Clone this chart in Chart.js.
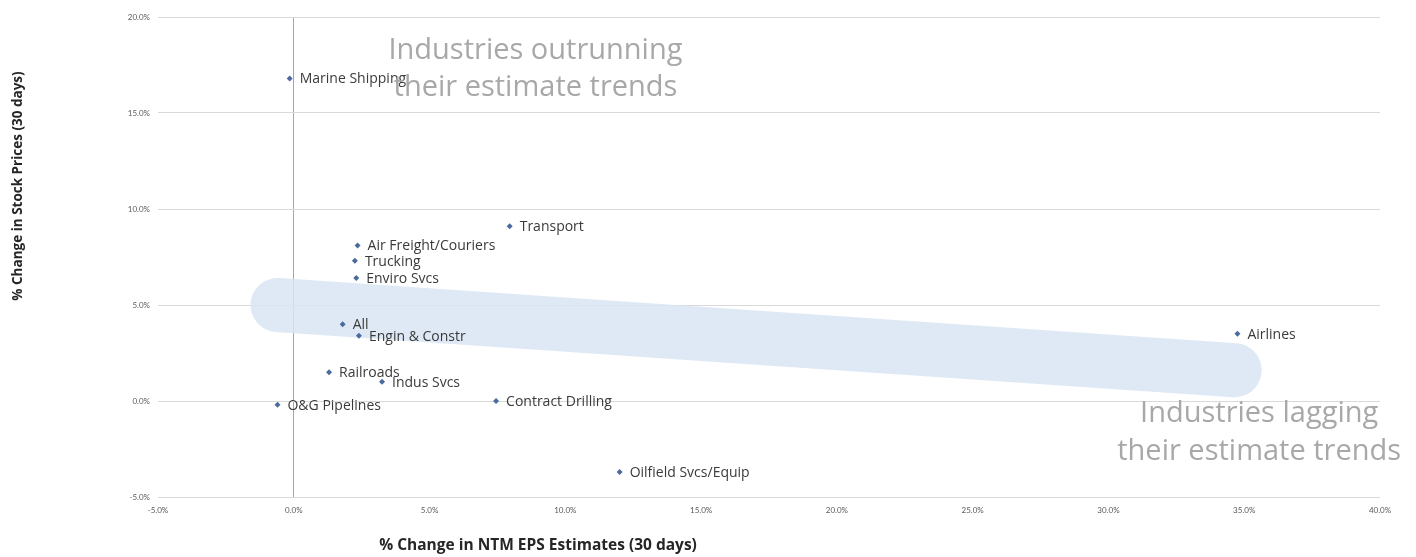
<!DOCTYPE html>
<html lang="en">
<head>
    <meta charset="UTF-8">
    <title>Industry Stock Prices vs EPS Estimates</title>
    <script src="https://cdn.jsdelivr.net/npm/chart.js"></script>
    <style>
        body { margin: 0; background: #fff; }
    </style>
</head>
<body>
    <canvas id="industryChart" width="1416" height="557"></canvas>
    <script>
        var industries = ['Marine Shipping', 'Transport', 'Air Freight/Couriers', 'Trucking', 'Enviro Svcs', 'All',
            'Engin & Constr', 'Railroads', 'Indus Svcs', 'O&G Pipelines', 'Contract Drilling', 'Oilfield Svcs/Equip', 'Airlines'];
        var epsChange = [-0.15, 7.95, 2.35, 2.25, 2.3, 1.8, 2.4, 1.3, 3.25, -0.6, 7.45, 12.0, 34.75];   // % change NTM EPS, 30 days
        var priceChange = [16.8, 9.1, 8.1, 7.3, 6.4, 4.0, 3.4, 1.5, 1.0, -0.2, 0.0, -3.7, 3.5];       // % change stock price, 30 days

        // rough trend band drawn behind the points
        var trendX = [-0.6, 34.65];
        var trendY = [5.0, 1.6];

        var xTitle = '% Change in NTM EPS Estimates (30 days)';
        var yTitle = '% Change in Stock Prices (30 days)';
        var upperNote = ['Industries outrunning', 'their estimate trends'];
        var lowerNote = ['Industries lagging', 'their estimate trends'];

        var points = industries.map(function(name, i) { return { x: epsChange[i], y: priceChange[i] }; });
        var trend = trendX.map(function(x, i) { return { x: x, y: trendY[i] }; });

        function pct(v) { return v.toFixed(1) + '%'; }

        var textPlugin = {
            id: 'textPlugin',
            afterDatasetsDraw: function(chart) {
                var ctx = chart.ctx;
                var xs = chart.scales.x, ys = chart.scales.y;
                ctx.save();

                // point labels, right of each marker
                var meta = chart.getDatasetMeta(0);
                ctx.font = '14px "Open Sans"';
                ctx.fillStyle = '#3a3a3a';
                ctx.textAlign = 'left';
                ctx.textBaseline = 'middle';
                meta.data.forEach(function(pt, i) {
                    ctx.fillText(industries[i], pt.x + 10, pt.y + 1);
                });

                // quadrant notes
                ctx.font = '29px "Open Sans"';
                ctx.fillStyle = '#a8a8a8';
                ctx.textAlign = 'center';
                ctx.fillText(upperNote[0], xs.getPixelForValue(8.9), ys.getPixelForValue(18.25));
                ctx.fillText(upperNote[1], xs.getPixelForValue(8.9), ys.getPixelForValue(16.3));
                ctx.fillText(lowerNote[0], xs.getPixelForValue(35.55), ys.getPixelForValue(-0.65));
                ctx.fillText(lowerNote[1], xs.getPixelForValue(35.55), ys.getPixelForValue(-2.65));

                // axis titles
                ctx.fillStyle = '#262626';
                ctx.font = 'bold 15.5px "Open Sans"';
                ctx.fillText(xTitle, 538, 546);
                ctx.font = 'bold 13.5px "Open Sans"';
                ctx.translate(18, 186);
                ctx.rotate(-Math.PI / 2);
                ctx.fillText(yTitle, 0, 0);
                ctx.restore();
            }
        };

        var ctx = document.getElementById('industryChart').getContext('2d');
        var industryChart = new Chart(ctx, {
            type: 'scatter',
            data: {
                datasets: [{
                    label: 'Industries',
                    data: points,
                    pointStyle: 'rectRot',
                    pointRadius: 3,
                    backgroundColor: '#4a6b9d',
                    borderColor: '#4a6b9d',
                    borderWidth: 0,
                    order: 0
                }, {
                    label: 'Trend',
                    data: trend,
                    showLine: true,
                    pointRadius: 0,
                    borderWidth: 54,
                    borderCapStyle: 'round',
                    borderColor: 'rgba(216, 229, 243, 0.85)',
                    order: 1
                }]
            },
            options: {
                responsive: false,
                animation: false,
                layout: { padding: { top: 17, right: 36, bottom: 0, left: 0 } },
                plugins: {
                    legend: { display: false },
                    tooltip: { enabled: false }
                },
                scales: {
                    x: {
                        type: 'linear',
                        min: -5,
                        max: 40,
                        afterFit: function(scale) { scale.height = 60; },
                        ticks: {
                            stepSize: 5,
                            padding: 9,
                            maxRotation: 0,
                            color: '#595959',
                            font: { family: 'Lato', size: 8 },
                            callback: pct
                        },
                        grid: {
                            drawTicks: false,
                            color: function(c) { return c.tick && c.tick.value === 0 ? '#a6a6a6' : 'rgba(0,0,0,0)'; }
                        },
                        border: { display: false }
                    },
                    y: {
                        min: -5,
                        max: 20,
                        afterFit: function(scale) { scale.width = 158; },
                        ticks: {
                            stepSize: 5,
                            padding: 8,
                            color: '#595959',
                            font: { family: 'Lato', size: 8 },
                            callback: pct
                        },
                        grid: { drawTicks: false, color: '#d9d9d9' },
                        border: { display: false }
                    }
                }
            },
            plugins: [textPlugin]
        });
    </script>
</body>
</html>
